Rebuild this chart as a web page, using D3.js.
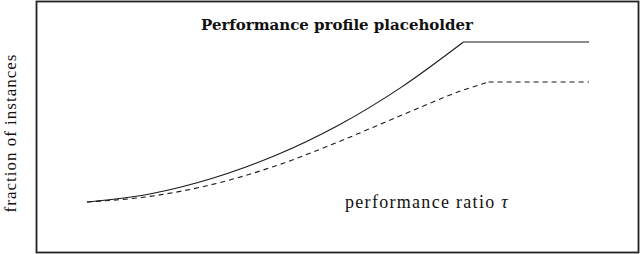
<!DOCTYPE html>
<html>
<head>
<meta charset="utf-8">
<script src="https://cdn.jsdelivr.net/npm/d3@7"></script>
<style>
  html, body { margin: 0; padding: 0; background: #fff; }
  svg { display: block; }
</style>
</head>
<body>
<svg id="chart" width="640" height="254"></svg>
<script>
// performance ratio tau, fraction of instances solved
const tauSolid = [1.0, 1.5, 2.0, 2.5, 3.0, 3.5, 4.0];
const fracSolid = [0.0, 0.05, 0.148, 0.29, 0.478, 0.715, 1.0];
const tauDashed = [1.0, 1.5, 2.0, 2.5, 3.0, 3.5, 4.0, 4.2];
const fracDashed = [0.0, 0.035, 0.11, 0.225, 0.375, 0.54, 0.70, 0.75];
const tauMax = 5.0;

const titleText = "Performance profile placeholder";
const xLabel = "performance ratio ";
const yLabel = "fraction of instances";

const svg = d3.select("#chart");
const frame = { left: 36.5, top: 1.5, right: 638.5, bottom: 252.5 };

const x = d3.scaleLinear().domain([1, 5]).range([87, 589]);
const y = d3.scaleLinear().domain([0, 1]).range([202, 42]);

// frame
svg.append("rect")
    .attr("x", frame.left).attr("y", frame.top)
    .attr("width", frame.right - frame.left).attr("height", frame.bottom - frame.top)
    .attr("fill", "none").attr("stroke", "#222").attr("stroke-width", 1.8);

const curve = d3.line().x(d => x(d[0])).y(d => y(d[1])).curve(d3.curveMonotoneX);
const flat = d3.line().x(d => x(d[0])).y(d => y(d[1]));

function drawSeries(taus, fracs, dash) {
    const pts = taus.map((t, i) => [t, fracs[i]]);
    const last = pts[pts.length - 1];
    const tail = [last, [tauMax, last[1]]];
    [curve(pts), flat(tail)].forEach(d => {
        svg.append("path").attr("d", d)
            .attr("fill", "none").attr("stroke", "#1a1a1a").attr("stroke-width", 1.1)
            .attr("stroke-dasharray", dash);
    });
}
drawSeries(tauSolid, fracSolid, null);
drawSeries(tauDashed, fracDashed, "5,4");

// title
svg.append("text")
    .attr("x", 337).attr("y", 30)
    .attr("text-anchor", "middle")
    .style("font-family", "'DejaVu Serif', serif")
    .style("font-weight", "bold").style("font-size", "15px")
    .attr("fill", "#111")
    .text(titleText);

// x label
const xl = svg.append("text")
    .attr("x", 345).attr("y", 208)
    .style("font-family", "'Liberation Serif', serif")
    .style("font-size", "18px")
    .style("letter-spacing", "1.3px")
    .attr("fill", "#111");
xl.append("tspan").text(xLabel);
xl.append("tspan").style("font-style", "italic").text("τ");

// y label
svg.append("text")
    .attr("transform", "translate(15.5,133) rotate(-90)")
    .attr("text-anchor", "middle")
    .style("font-family", "'Liberation Serif', serif")
    .style("font-size", "17px")
    .style("letter-spacing", "1px")
    .attr("fill", "#111")
    .text(yLabel);
</script>
</body>
</html>
